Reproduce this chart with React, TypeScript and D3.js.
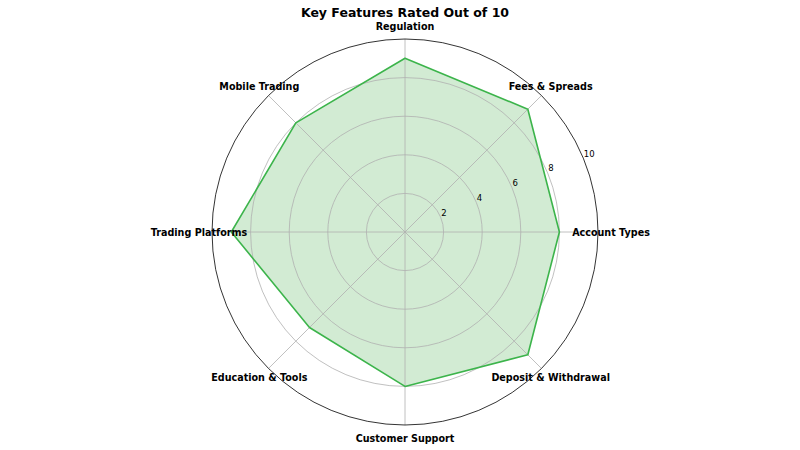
import React from "react";
import * as d3 from "d3";

const categories = [
  "Account Types",
  "Fees & Spreads",
  "Regulation",
  "Mobile Trading",
  "Trading Platforms",
  "Education & Tools",
  "Customer Support",
  "Deposit & Withdrawal",
];
const ratings = [8, 9, 9, 8, 9, 7, 8, 9];
const ringTicks = [2, 4, 6, 8, 10];
const title = "Key Features Rated Out of 10";

const W = 800;
const H = 450;
const cx = 405;
const cy = 232;
const R = 193;
const labelR = 206;
const font = "'DejaVu Sans', sans-serif";

export default function App() {
  const r = d3.scaleLinear().domain([0, 10]).range([0, R]);
  const angle = d3
    .scaleLinear()
    .domain([0, categories.length])
    .range([0, 2 * Math.PI]);
  // math angle (counter-clockwise from east)
  const pt = (i: number, v: number): [number, number] => {
    const a = angle(i);
    return [cx + r(v) * Math.cos(a), cy - r(v) * Math.sin(a)];
  };
  const pts = ratings.map((v, i) => pt(i, v));
  const line = d3.line().curve(d3.curveLinearClosed);
  const pathD = line(pts) || "";
  const tickAngle = (22.5 * Math.PI) / 180;

  return (
    <svg
      width={W}
      height={H}
      style={{ position: "absolute", left: 0, top: 0, background: "#fff" }}
      fontFamily={font}
    >
      <rect width={W} height={H} fill="#fff" />
      <path d={pathD} fill="#4CAF50" fillOpacity={0.25} stroke="none" />
      {ringTicks.slice(0, -1).map((t) => (
        <circle key={t} cx={cx} cy={cy} r={r(t)} fill="none" stroke="#b0b0b0" strokeWidth={0.8} />
      ))}
      {categories.map((c, i) => {
        const [x, y] = pt(i, 10);
        return <line key={c} x1={cx} y1={cy} x2={x} y2={y} stroke="#b0b0b0" strokeWidth={0.8} />;
      })}
      <circle cx={cx} cy={cy} r={R} fill="none" stroke="#000" strokeWidth={0.8} />
      <path d={pathD} fill="none" stroke="#3cb44b" strokeWidth={1.6} strokeLinejoin="round" />
      {ringTicks.map((t) => (
        <text
          key={t}
          x={cx + r(t) * Math.cos(tickAngle) + 0.5}
          y={cy - r(t) * Math.sin(tickAngle) - 1.5}
          fontSize={8.5}
          textAnchor="start"
          fill="#000"
        >
          {t}
        </text>
      ))}
      {categories.map((c, i) => {
        const a = angle(i);
        const x = cx + labelR * Math.cos(a);
        const y = cy - labelR * Math.sin(a);
        return (
          <text
            key={c}
            x={x}
            y={y}
            fontSize={9.6}
            fontWeight="bold"
            textAnchor="middle"
            dominantBaseline="central"
            fill="#000"
          >
            {c}
          </text>
        );
      })}
      <text x={cx} y={12} fontSize={12.5} fontWeight="bold" textAnchor="middle" dominantBaseline="central" fill="#000">
        {title}
      </text>
    </svg>
  );
}
